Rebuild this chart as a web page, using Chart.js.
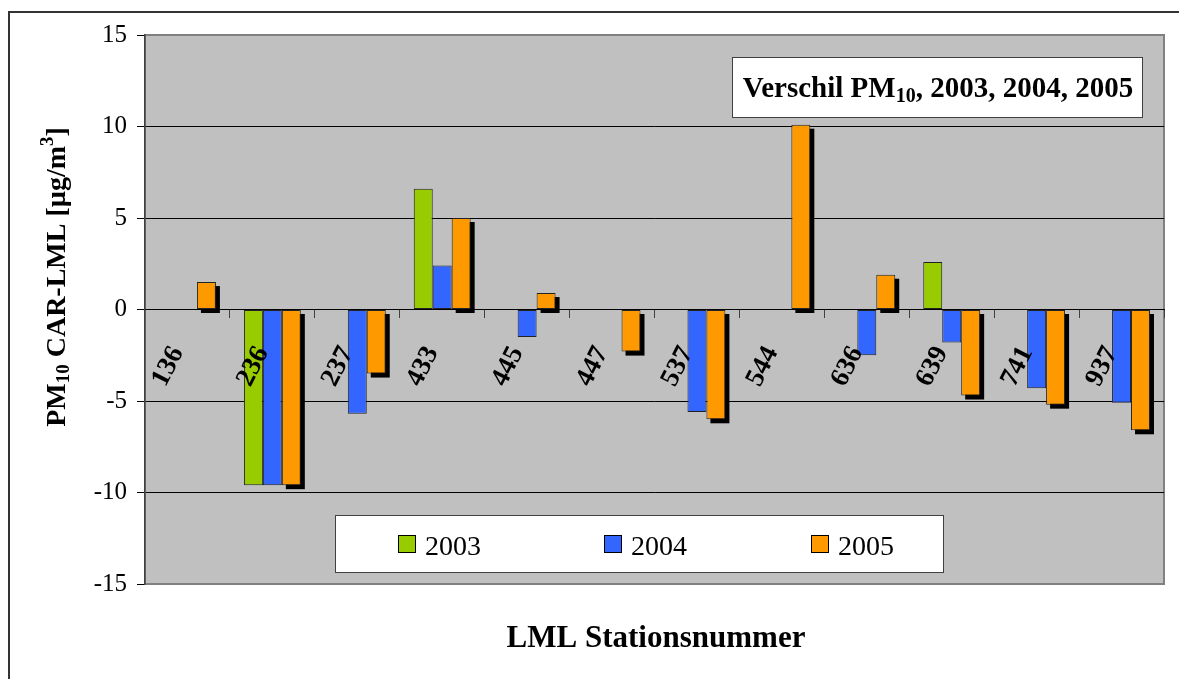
<!DOCTYPE html>
<html>
<head>
<meta charset="utf-8">
<script src="https://cdn.jsdelivr.net/npm/chart.js"></script>
<style>
  body { margin: 0; background: #fff; }
  #wrap { width: 1179px; height: 679px; }
</style>
</head>
<body>
<div id="wrap"><canvas id="pmChart" width="1179" height="679"></canvas></div>
<script>
// LML stations and PM10 difference CAR-LML per year (ug/m3)
const stations = ['136', '236', '237', '433', '445', '447', '537', '544', '636', '639', '741', '937'];
const years = ['2003', '2004', '2005'];
const diff2003 = [null, -9.6, null, 6.6, null, null, null, null, null, 2.6, null, null];
const diff2004 = [null, -9.6, -5.7, 2.4, -1.5, null, -5.6, null, -2.5, -1.8, -4.3, -5.1];
const diff2005 = [1.5, -9.6, -3.5, 5.0, 0.9, -2.3, -6.0, 10.1, 1.9, -4.7, -5.2, -6.6];
const yMin = -15, yMax = 15, yStep = 5;
const barColors = ['#99CC00', '#3366FF', '#FF9900'];

const serif = '"Liberation Serif", "Times New Roman", serif';
Chart.defaults.font.family = serif;
Chart.defaults.color = '#000';

// draws text with sub/superscript parts, centred on x, baseline y
function richText(ctx, parts, x, y, size) {
  const fontFor = p => 'bold ' + (p[1] ? Math.round(size * 0.68) : size) + 'px ' + serif;
  let total = 0;
  parts.forEach(p => { ctx.font = fontFor(p); total += ctx.measureText(p[0]).width; });
  let cx = x - total / 2;
  ctx.textAlign = 'left';
  ctx.textBaseline = 'alphabetic';
  parts.forEach(p => {
    ctx.font = fontFor(p);
    let dy = 0;
    if (p[1] === 'sub') dy = size * 0.16;
    if (p[1] === 'sup') dy = -size * 0.42;
    ctx.fillText(p[0], cx, y + dy);
    cx += ctx.measureText(p[0]).width;
  });
}

const decor = {
  id: 'decor',
  beforeDraw(chart) {
    const {ctx, chartArea: a} = chart;
    ctx.save();
    ctx.fillStyle = '#fff';
    ctx.fillRect(0, 0, chart.width, chart.height);
    ctx.strokeStyle = '#333';
    ctx.lineWidth = 2;
    ctx.beginPath();
    ctx.moveTo(9, chart.height);
    ctx.lineTo(9, 12);
    ctx.lineTo(chart.width, 12);
    ctx.stroke();
    ctx.fillStyle = '#C0C0C0';
    ctx.fillRect(a.left, a.top, a.right - a.left, a.bottom - a.top);
    ctx.strokeStyle = '#808080';
    ctx.lineWidth = 2;
    ctx.strokeRect(a.left, a.top, a.right - a.left, a.bottom - a.top);
    ctx.restore();
  },
  beforeDatasetDraw(chart, args) {
    // black drop shadow behind the 2005 bars
    if (args.index !== 2) return;
    const ctx = chart.ctx;
    ctx.save();
    ctx.fillStyle = '#000';
    args.meta.data.forEach(bar => {
      const p = bar.getProps(['x', 'y', 'base', 'width'], true);
      if (isNaN(p.y) || p.y === null) return;
      ctx.fillRect(p.x - p.width / 2 + 4, Math.min(p.y, p.base) + 4, p.width, Math.abs(p.base - p.y));
    });
    ctx.restore();
  },
  afterDatasetsDraw(chart) {
    // station labels, rotated, just under the zero line and over the bars
    const ctx = chart.ctx;
    const xs = chart.scales.x, ys = chart.scales.y;
    const y0 = ys.getPixelForValue(0);
    ctx.save();
    ctx.fillStyle = '#000';
    ctx.font = 'bold 27px ' + serif;
    ctx.textAlign = 'right';
    ctx.textBaseline = 'middle';
    stations.forEach((s, i) => {
      ctx.save();
      ctx.translate(xs.getPixelForValue(i) - 10, y0 + 39);
      ctx.rotate(-63 * Math.PI / 180);
      ctx.fillText(s, 0, 0);
      ctx.restore();
    });
    ctx.restore();
  },
  afterDraw(chart) {
    const ctx = chart.ctx;
    ctx.save();

    // title box
    ctx.fillStyle = '#fff';
    ctx.fillRect(732, 57, 410, 60);
    ctx.strokeStyle = '#404040';
    ctx.lineWidth = 1;
    ctx.strokeRect(732.5, 57.5, 410, 60);
    ctx.fillStyle = '#000';
    richText(ctx, [['Verschil PM'], ['10', 'sub'], [', 2003, 2004, 2005']], 938, 97, 29);

    // y axis title
    ctx.save();
    ctx.translate(65, 277);
    ctx.rotate(-Math.PI / 2);
    richText(ctx, [['PM'], ['10', 'sub'], [' CAR-LML [\u00B5g/m'], ['3', 'sup'], [']']], 0, 0, 28);
    ctx.restore();

    // x axis title
    ctx.font = 'bold 31px ' + serif;
    ctx.textAlign = 'center';
    ctx.textBaseline = 'alphabetic';
    ctx.fillText('LML Stationsnummer', 656, 647);

    // legend
    ctx.fillStyle = '#fff';
    ctx.fillRect(335, 515, 608, 57);
    ctx.strokeStyle = '#404040';
    ctx.strokeRect(335.5, 515.5, 608, 57);
    const sqX = [398, 604, 811];
    chart.data.datasets.forEach((ds, i) => {
      ctx.fillStyle = ds.backgroundColor;
      ctx.fillRect(sqX[i], 535, 17, 17);
      ctx.strokeStyle = '#000';
      ctx.strokeRect(sqX[i] + 0.5, 535.5, 17, 17);
      ctx.fillStyle = '#000';
      ctx.font = '28px ' + serif;
      ctx.textAlign = 'left';
      ctx.fillText(ds.label, sqX[i] + 27, 555);
    });
    ctx.restore();
  }
};

new Chart(document.getElementById('pmChart'), {
  type: 'bar',
  data: {
    labels: stations,
    datasets: [
      { label: years[0], data: diff2003, backgroundColor: barColors[0] },
      { label: years[1], data: diff2004, backgroundColor: barColors[1] },
      { label: years[2], data: diff2005, backgroundColor: barColors[2] }
    ]
  },
  options: {
    responsive: false,
    animation: false,
    categoryPercentage: 0.67,
    barPercentage: 1.0,
    datasets: {
      bar: { borderColor: '#222', borderWidth: 1, borderSkipped: false }
    },
    layout: { padding: { left: 0, top: 35, right: 15, bottom: 95 } },
    plugins: {
      legend: { display: false },
      tooltip: { enabled: false }
    },
    scales: {
      x: {
        position: { y: 0 },
        grid: { drawOnChartArea: false, tickLength: 8, tickColor: '#404040', offset: true },
        border: { color: '#000', width: 1 },
        ticks: { display: false }
      },
      y: {
        min: yMin,
        max: yMax,
        afterFit(scale) { scale.width = 145; },
        ticks: { stepSize: yStep, padding: 10, font: { size: 25 } },
        grid: {
          color: c => (c.tick && Math.abs(c.tick.value) === yMax) ? 'rgba(0,0,0,0)' : '#000',
          lineWidth: 1,
          tickLength: 8,
          tickColor: '#000'
        },
        border: { color: '#404040', width: 1.5 }
      }
    }
  },
  plugins: [decor]
});
</script>
</body>
</html>
